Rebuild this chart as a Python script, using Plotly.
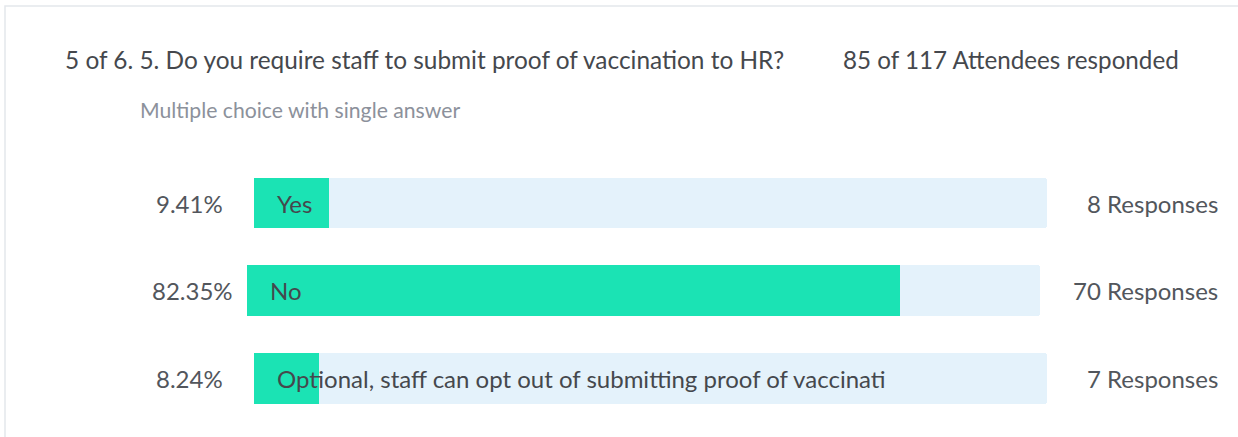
import plotly.graph_objects as go

# ---- data ----
categories = ["Yes", "No", "Optional, staff can opt out of submitting proof of vaccinati"]
percents = [9.41, 82.35, 8.24]
responses = [8, 70, 7]
percent_labels = ["9.41%", "82.35%", "8.24%"]
response_labels = [f"{r} Responses" for r in responses]
title_text = "5 of 6. 5. Do you require staff to submit proof of vaccination to HR?"
attendee_text = "85 of 117 Attendees responded"
subtitle_text = "Multiple choice with single answer"

# ---- styling / layout ----
W, H = 1238, 437
FONT = "Lato, 'Open Sans', sans-serif"
FILL = "#1be3b4"
TRACK = "#e4f2fb"
TEXT = "#45484d"
LBL = "#52565c"
SUB = "#8c919b"

# pixel extents of each row's track (x0, x1, ytop, ybottom)
row_px = [(254, 1047, 178, 228), (247, 1040, 265, 316), (254, 1047, 353, 404)]
pct_shift = [-29, -12, -29]

fig = go.Figure()
annotations = []
layout_axes = {}
for i, cat in enumerate(categories):
    n = "" if i == 0 else str(i + 1)
    xa, ya = "x" + n, "y" + n
    fig.add_trace(go.Bar(x=[100], y=[cat], orientation="h", xaxis=xa, yaxis=ya,
                         marker=dict(color=TRACK, line=dict(width=0)), width=1,
                         hoverinfo="skip", showlegend=False))
    fig.add_trace(go.Bar(x=[percents[i]], y=[cat], orientation="h", xaxis=xa, yaxis=ya,
                         marker=dict(color=FILL, line=dict(width=0)), width=1,
                         hoverinfo="skip", showlegend=False))
    x0, x1, yt, yb = row_px[i]
    layout_axes["xaxis" + n] = dict(domain=[x0 / W, x1 / W], range=[0, 100], visible=False,
                                    fixedrange=True, anchor=ya)
    layout_axes["yaxis" + n] = dict(domain=[1 - yb / H, 1 - yt / H], range=[-0.5, 0.5],
                                    visible=False, fixedrange=True, anchor=xa)
    annotations.append(dict(xref=xa, yref=ya, x=0, y=cat, text=percent_labels[i],
                            xanchor="right", yanchor="middle", xshift=pct_shift[i],
                            showarrow=False, font=dict(family=FONT, size=24, color=LBL)))
    annotations.append(dict(xref=xa, yref=ya, x=0, y=cat, text=cat,
                            xanchor="left", yanchor="middle", xshift=21,
                            showarrow=False, font=dict(family=FONT, size=24, color=TEXT)))
    annotations.append(dict(xref=xa, yref=ya, x=100, y=cat, text=response_labels[i],
                            xanchor="center", yanchor="middle", xshift=105,
                            showarrow=False, font=dict(family=FONT, size=24, color=LBL)))

annotations += [
    dict(xref="paper", yref="paper", x=63 / W, y=1 - 59 / H, text=title_text,
         xanchor="left", yanchor="middle", showarrow=False,
         font=dict(family=FONT, size=24.4, color=TEXT)),
    dict(xref="paper", yref="paper", x=841 / W, y=1 - 59 / H, text=attendee_text,
         xanchor="left", yanchor="middle", showarrow=False,
         font=dict(family=FONT, size=24.2, color=TEXT)),
    dict(xref="paper", yref="paper", x=138 / W, y=1 - 110 / H, text=subtitle_text,
         xanchor="left", yanchor="middle", showarrow=False,
         font=dict(family=FONT, size=21.2, color=SUB)),
]

shapes = [dict(type="rect", xref="paper", yref="paper", x0=5 / W, x1=1.02,
               y0=-0.05, y1=1 - 6 / H, line=dict(color="#e4e7ec", width=1.5),
               fillcolor="rgba(0,0,0,0)", layer="below")]

fig.update_layout(width=W, height=H, margin=dict(l=0, r=0, t=0, b=0),
                  paper_bgcolor="white", plot_bgcolor="rgba(0,0,0,0)",
                  barmode="overlay", barcornerradius=3, bargap=0,
                  annotations=annotations, shapes=shapes, showlegend=False,
                  **layout_axes)

fig.write_html("out.html", config={"displayModeBar": False},
               post_script="document.body.style.margin='0';document.body.style.overflow='hidden';")
